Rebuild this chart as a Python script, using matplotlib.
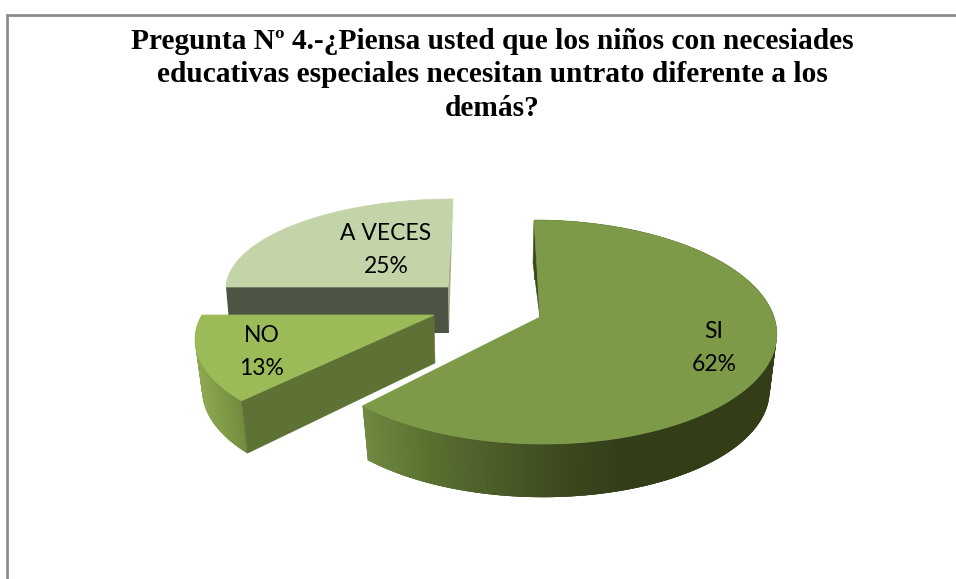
import numpy as np
import matplotlib
matplotlib.use("Agg")
import matplotlib.pyplot as plt
from matplotlib.collections import PolyCollection
from matplotlib.colors import LinearSegmentedColormap
from matplotlib.patches import Polygon

categories = ["SI", "NO", "A VECES"]
values = [62, 13, 25]
title_lines = ["Pregunta Nº 4.-¿Piensa usted que los niños con necesiades",
               "educativas especiales necesitan untrato diferente a los",
               "demás?"]

W, H = 956, 579
fig = plt.figure(figsize=(W / 100, H / 100), dpi=100, facecolor="white")
ax = fig.add_axes([0, 0, 1, 1])
ax.set_xlim(0, W)
ax.set_ylim(H, 0)
ax.axis("off")

# frame
ax.plot([7.5, 7.5, W + 2], [H + 2, 15, 15], color="#8c8c8c", lw=2.0, solid_joinstyle="miter")

# slice angles come from the values
total = sum(values)
edges = np.concatenate([[0], np.cumsum(values)]) / total * 360.0


def project(theta, cx, cy, a, b, k, sh, fx=1.0, fy=1.0, dy=0.0):
    t = np.radians(theta)
    u, v = np.sin(t), np.cos(t)
    s = 1.0 / (1.0 + k * v)
    return cx + (a * u + sh * v) * s * fx, cy + dy - b * v * s * fy


def arc(th0, th1, g, **kw):
    th = np.linspace(th0, th1, 160)
    return np.column_stack(project(th, **g, **kw))


def outer_wall(th0, th1, g, low, cmap, xr):
    th = np.linspace(th0, th1, 240)
    up = np.column_stack(project(th, **g))
    lo = np.column_stack(project(th, **g, **low))
    n = len(th)
    # each strip overlaps the next ones, so no seams show between them
    polys = [[up[i], up[min(i + 3, n - 1)], lo[min(i + 3, n - 1)], lo[i]] for i in range(n - 1)]
    c = np.clip((up[:-1, 0] - xr[0]) / (xr[1] - xr[0]), 0, 1)
    cols = cmap(c)
    ax.add_collection(PolyCollection(polys, facecolors=cols, edgecolors="none"))


def top(th0, th1, g, color, apex=None):
    apex = apex or (g["cx"], g["cy"])
    pts = np.vstack([apex, arc(th0, th1, g)])
    ax.add_patch(Polygon(pts, closed=True, facecolor=color, edgecolor=color, lw=0.5))


g_si = dict(cx=538, cy=317, a=236, b=110, k=0.134, sh=-4.5)
g_no = dict(cx=434, cy=315, a=232, b=97, k=0.24, sh=0)
g_av = dict(cx=448, cy=287, a=222, b=88, k=0.0, sh=5)
low_si = dict(fx=0.97, fy=0.97, dy=57)
low_no = dict(fx=0.97, fy=1.03, dy=50)

cm_si = LinearSegmentedColormap.from_list("si", ["#6f8a41", "#5a7030", "#4c5d2a", "#3d4b1f", "#333e18", "#333e18"])
cm_no = LinearSegmentedColormap.from_list("no", ["#8aa64e", "#7c9845", "#6c863c"])

# A VECES
th0, th1 = edges[2], edges[3]
ax.add_patch(Polygon([(453, 199), (449, 333), (448, 287)], facecolor="#9fb086", edgecolor="none"))
ax.add_patch(Polygon([(226, 287), (448, 287), (449, 333), (230, 333)], facecolor="#4e5444", edgecolor="none"))
top(th0, th1, g_av, "#c3d4a9")

# NO
th0, th1 = edges[1], edges[2]
outer_wall(th0, th1, g_no, low_no, cm_no, (200, 250))
a1 = project(th0, **g_no)
b1 = project(th0, **g_no, **low_no)
ax.add_patch(Polygon([(g_no["cx"], g_no["cy"]), a1, b1, (g_no["cx"] + 1, g_no["cy"] + 48)],
                     facecolor="#5d7234", edgecolor="#5d7234", lw=0.4))
top(th0, th1, g_no, "#9bbb59")

# SI
th0, th1 = edges[0], edges[1]
outer_wall(th0, th1, g_si, low_si, cm_si, (363, 690))
ax.add_patch(Polygon([(534, 221), (533, 263), (540, 318)], facecolor="#3c4a22", edgecolor="#3c4a22", lw=0.4))
top(th0, th1, g_si, "#7d9a49", apex=(540, 317))

# data labels
label_xy = {"SI": (714, 348), "NO": (262, 352), "A VECES": (386, 250)}
for name, val in zip(categories, values):
    x, y = label_xy[name]
    ax.text(x, y, f"{name}\n{val}%", ha="center", va="center", fontsize=16.5, family="Lato",
            color="black", linespacing=1.75)

ax.text(492, 75, "\n".join(title_lines), ha="center", va="center", fontsize=21.2,
        fontweight="bold", family="Liberation Serif", color="black", linespacing=1.32)

fig.savefig("out.png", dpi=100, facecolor="white")
